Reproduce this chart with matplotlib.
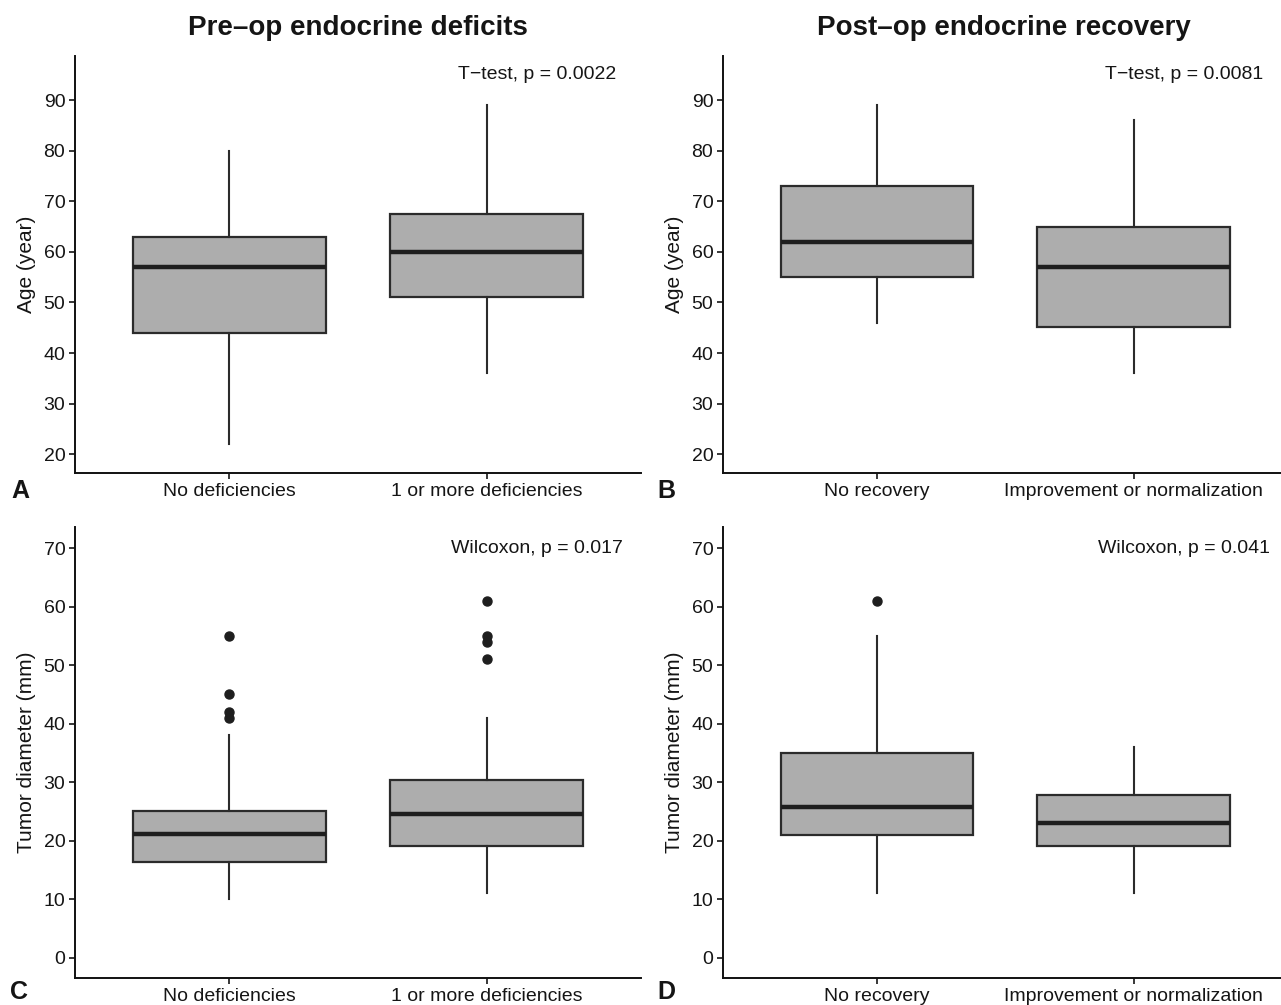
import matplotlib
matplotlib.use("Agg")
import matplotlib.pyplot as plt

plt.rcParams['font.family'] = ['Liberation Sans', 'DejaVu Sans']

# ---- data ----
cats_pre = ["No deficiencies", "1 or more deficiencies"]
cats_post = ["No recovery", "Improvement or normalization"]

# Age, pre-op: [whislo, q1, median, q3, whishi]
age_pre_no = [22, 44, 57, 63, 80]
age_pre_yes = [36, 51, 60, 67.5, 89]
# Age, post-op
age_post_no = [46, 55, 62, 73, 89]
age_post_yes = [36, 45.2, 57, 65, 86]
# Tumor diameter, pre-op
tum_pre_no = [10, 16.3, 21.2, 25, 38]
tum_pre_yes = [11, 19, 24.5, 30.3, 41]
tum_pre_no_out = [55, 45, 42, 41]
tum_pre_yes_out = [61, 55, 54, 51]
# Tumor diameter, post-op
tum_post_no = [11, 21, 25.8, 35, 55]
tum_post_yes = [11, 19, 23, 27.8, 36]
tum_post_no_out = [61]
tum_post_yes_out = []

age_ticks = [20, 30, 40, 50, 60, 70, 80, 90]
tum_ticks = [0, 10, 20, 30, 40, 50, 60, 70]

pvals = ["T\u2212test, p = 0.0022", "T\u2212test, p = 0.0081",
         "Wilcoxon, p = 0.017", "Wilcoxon, p = 0.041"]
titles = ["Pre\u2013op endocrine deficits", "Post\u2013op endocrine recovery"]

W, H = 1281, 1005
fig = plt.figure(figsize=(W / 100, H / 100), dpi=100)

def rect(l, r, t, b):
    return [l / W, 1 - b / H, (r - l) / W, (b - t) / H]

def stats(five, fl, label):
    lo, q1, med, q3, hi = five
    return dict(whislo=lo, q1=q1, med=med, q3=q3, whishi=hi, fliers=fl, label=label)

line_col = "#2b2b2b"
fill_col = "#adadad"
txt_col = "#151515"

def panel(r, data, cats, ylabel, yticks, ylim, xlim, ptxt, ptxt_y):
    ax = fig.add_axes(r)
    st = [stats(d[0], d[1], c) for d, c in zip(data, cats)]
    ax.bxp(st, positions=[1, 2], widths=0.75, patch_artist=True,
           showcaps=False, manage_ticks=False,
           boxprops=dict(facecolor=fill_col, edgecolor=line_col, linewidth=1.6),
           whiskerprops=dict(color=line_col, linewidth=1.5),
           medianprops=dict(color="#1e1e1e", linewidth=3.2),
           flierprops=dict(marker='o', markerfacecolor="#1e1e1e",
                           markeredgecolor="#1e1e1e", markersize=6.5))
    ax.set_xlim(*xlim)
    ax.set_ylim(*ylim)
    ax.set_xticks([1, 2])
    ax.set_xticklabels(cats)
    ax.set_yticks(yticks)
    ax.set_ylabel(ylabel, fontsize=15, color=txt_col, labelpad=5)
    for s in ["top", "right"]:
        ax.spines[s].set_visible(False)
    for s in ["left", "bottom"]:
        ax.spines[s].set_linewidth(1.4)
        ax.spines[s].set_color("#111111")
    ax.tick_params(axis='both', labelsize=14, length=4.5, width=1.2,
                   colors=txt_col, pad=2.5)
    ax.text(2.195, ptxt_y, ptxt, ha='center', va='center', fontsize=14,
            color=txt_col)
    return ax

age_lim = (16.3, 98.7)
tum_lim = (-3.5, 73.6)
xl_left = (0.4, 2.6)
xl_right = (0.4, 2.574)

axA = panel(rect(75, 641, 56, 473), [(age_pre_no, []), (age_pre_yes, [])],
            cats_pre, "Age (year)", age_ticks, age_lim, xl_left, pvals[0], 95)
axB = panel(rect(723, 1281, 56, 473), [(age_post_no, []), (age_post_yes, [])],
            cats_post, "Age (year)", age_ticks, age_lim, xl_right, pvals[1], 95)
axC = panel(rect(75, 641, 527, 978), [(tum_pre_no, tum_pre_no_out), (tum_pre_yes, tum_pre_yes_out)],
            cats_pre, "Tumor diameter (mm)", tum_ticks, tum_lim, xl_left, pvals[2], 70)
axD = panel(rect(723, 1281, 527, 978), [(tum_post_no, tum_post_no_out), (tum_post_yes, tum_post_yes_out)],
            cats_post, "Tumor diameter (mm)", tum_ticks, tum_lim, xl_right, pvals[3], 70)

fig.text(358 / W, 1 - 28 / H, titles[0], ha='center', va='center',
         fontsize=20, fontweight='bold', color=txt_col)
fig.text(1004 / W, 1 - 28 / H, titles[1], ha='center', va='center',
         fontsize=20, fontweight='bold', color=txt_col)

for lab, x, y in [("A", 20, 491), ("B", 666, 491), ("C", 19, 992), ("D", 666, 992)]:
    fig.text(x / W, 1 - y / H, lab, ha='center', va='center', fontsize=18,
             fontweight='bold', color=txt_col)

fig.savefig("out.png", dpi=100)
